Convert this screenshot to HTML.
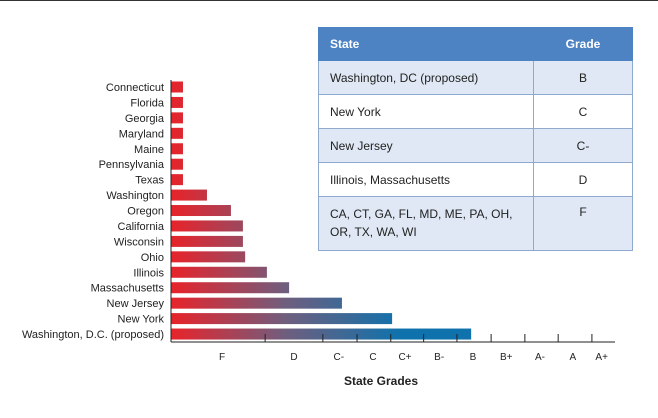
<!DOCTYPE html>
<html><head><meta charset="utf-8"><style>
body{margin:0;background:#fff;width:658px;height:418px;overflow:hidden;font-family:"Liberation Sans",sans-serif}
#tbl{position:absolute;left:318px;top:27px;width:315px;border-collapse:collapse;font-size:12px;color:#222}
#tbl td{border:1px solid #8fa9cf;padding:0 11px;height:34px;box-sizing:border-box}
#tbl tr.h td{background:#4d82c3;color:#fff;font-weight:bold;border-color:#4d82c3;height:33px}
#tbl tr.a td{background:#dfe8f4}
#tbl td.g{text-align:center;width:99px}
</style></head><body>
<div style="position:absolute;left:0;top:0;width:658px;height:1px;background:#333"></div>
<svg id="chart" width="658" height="418" style="position:absolute;left:0;top:0">
<defs><linearGradient id="grad" gradientUnits="userSpaceOnUse" x1="171" y1="0" x2="400" y2="0">
<stop offset="0" stop-color="#e8232a"/><stop offset="0.5" stop-color="#6f5e7e"/><stop offset="1" stop-color="#0f72ac"/></linearGradient></defs>
</svg>
<table id="tbl">
<tr class="h"><td>State</td><td class="g">Grade</td></tr>
<tr class="a"><td>Washington, DC (proposed)</td><td class="g">B</td></tr>
<tr><td>New York</td><td class="g">C</td></tr>
<tr class="a"><td>New Jersey</td><td class="g">C-</td></tr>
<tr><td>Illinois, Massachusetts</td><td class="g">D</td></tr>
<tr class="a"><td style="height:54px;vertical-align:top;padding-top:8px;line-height:18px">CA, CT, GA, FL, MD, ME, PA, OH,<br>OR, TX, WA, WI</td><td class="g" style="height:54px;vertical-align:top;padding-top:8px">F</td></tr>
</table>
<script>
const states=["Connecticut","Florida","Georgia","Maryland","Maine","Pennsylvania","Texas","Washington","Oregon","California","Wisconsin","Ohio","Illinois","Massachusetts","New Jersey","New York","Washington, D.C. (proposed)"];
const scores=[2.7,2.7,2.7,2.7,2.7,2.7,2.7,8.1,13.5,16.2,16.2,16.7,21.6,26.6,38.5,49.8,67.6];
const tickValues=[21.2,34.2,41.9,49.5,56.9,64.4,72.1,79.7,87.2,94.8];
const gradeLabels=["F","D","C-","C","C+","B-","B","B+","A-","A","A+"];
const gradeLabelPos=[11.5,27.7,37.8,45.5,52.7,60.4,68.0,75.5,83.1,90.5,97.0];
const NS="http://www.w3.org/2000/svg",svg=document.getElementById('chart');
const x=v=>171+v*4.44, y=i=>87+i*15.44;
function mk(t,a){const e=document.createElementNS(NS,t);for(const k in a)e.setAttribute(k,a[k]);svg.appendChild(e);return e;}
states.forEach((s,i)=>{
 const r=mk('rect',{x:171,y:y(i)-5.5,width:x(scores[i])-171,height:11,fill:'url(#grad)'});
 
 
 const t=mk('text',{x:164,y:y(i)+4,'text-anchor':'end','font-size':'11',fill:'#222'});t.textContent=s;
 
 
});
const ax=mk('line',{x1:171,y1:80,x2:171,y2:342,stroke:'#222','stroke-width':1});


const bx=mk('line',{x1:171,y1:342,x2:615,y2:342,stroke:'#222','stroke-width':1});


tickValues.forEach(v=>{const t=mk('line',{x1:x(v),y1:334,x2:x(v),y2:342,stroke:'#222'});
 
 });
gradeLabels.forEach((g,i)=>{const t=mk('text',{x:x(gradeLabelPos[i]),y:360,'text-anchor':'middle','font-size':'10',fill:'#222'});t.textContent=g;
 
 });
const tt=mk('text',{x:381,y:385,'text-anchor':'middle','font-size':'12','font-weight':'bold',fill:'#222'});tt.textContent='State Grades';


</script>
</body></html>
